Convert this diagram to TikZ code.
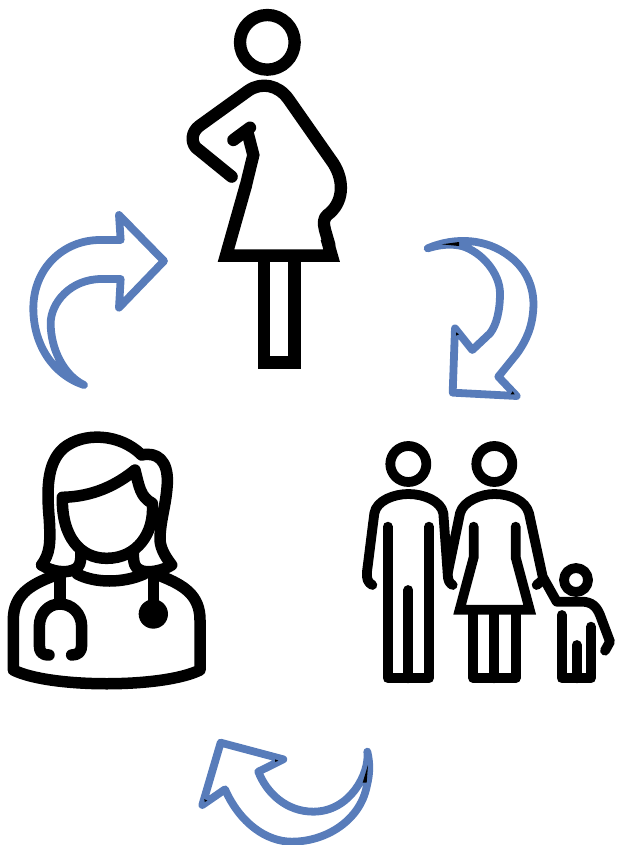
\documentclass[tikz,border=0pt]{standalone}
\definecolor{arrowblue}{RGB}{88,124,186}
\tikzset{
  icon/.style={draw=black,line width=#1,line cap=round,line join=round,fill=none},
  sharp/.style={draw=black,line width=#1,line cap=butt,line join=miter,miter limit=10,fill=none},
  cyclearrow/.style={draw=arrowblue,line width=7.8pt,line cap=round,line join=round,fill=none},
  artifact/.style={fill=black,draw=none},
  zoomed/.style 2 args={x=0.33333pt,y=-0.33333pt,xshift=#1 pt,yshift=-#2 pt}
}
\begin{document}
\begin{tikzpicture}[x=1pt,y=-1pt]
\useasboundingbox (0,0) rectangle (617,845);
% pregnant woman
\begin{scope}[zoomed={170}{0}]
  \draw[icon=12.3pt] (292,127) circle[radius=82];
  \draw[icon=12.3pt] (185,530) -- (78,443) .. controls (62,425) and (65,395) .. (88,378)
    -- (235,272) .. controls (275,245) and (325,255) .. (355,297)
    -- (490,490) .. controls (525,545) and (520,610) .. (472,645)
    .. controls (460,655) and (460,670) .. (465,690) -- (478,735);
  \draw[icon=12.3pt] (190,420) -- (240,383);
  \draw[icon=12.3pt,line join=miter] (232,395) -- (250,465) -- (228,555);
  \draw[sharp=12.5pt] (228,555) -- (168,767) -- (485,767) -- (470,715);
  \draw[sharp=12.5pt] (281.5,767) -- (281.5,1087) -- (373.5,1087) -- (373.5,767);
\end{scope}
% doctor
\begin{scope}[zoomed={0}{420}]
  \draw[icon=11.5pt] (125,435) .. controls (150,400) and (152,370) .. (148,300)
    .. controls (140,210) and (140,130) .. (190,85) .. controls (250,35) and (360,40) .. (425,105)
    .. controls (470,95) and (505,120) .. (502,190)
    .. controls (498,260) and (480,300) .. (480,360) .. controls (482,390) and (500,415) .. (515,435)
    .. controls (490,452) and (440,462) .. (420,450) .. controls (405,445) and (400,430) .. (400,400);
  \draw[icon=11.5pt] (125,435) .. controls (155,455) and (195,460) .. (220,450)
    .. controls (240,445) and (243,425) .. (243,395);
  \draw[icon=11.5pt] (187,232) .. controls (280,230) and (350,195) .. (405,150)
    .. controls (418,200) and (420,230) .. (457,250)
    .. controls (465,340) and (410,415) .. (320,415)
    .. controls (240,415) and (185,350) .. (187,232);
  \draw[icon=11.5pt] (232,462) .. controls (285,490) and (370,490) .. (432,462);
  \draw[icon=11.5pt] (160,468) .. controls (90,495) and (40,525) .. (40,600) -- (40,750)
    .. controls (150,805) and (490,805) .. (600,750) -- (600,600)
    .. controls (600,525) and (550,495) .. (482,468);
  \draw[icon=11.5pt] (180,475) -- (180,552);
  \draw[icon=11.5pt] (147,705) .. controls (125,705) and (118,695) .. (118,675) -- (118,620)
    .. controls (118,580) and (145,552) .. (180,552)
    .. controls (215,552) and (245,580) .. (245,620) -- (245,675)
    .. controls (245,695) and (235,705) .. (215,705);
  \draw[icon=11.5pt] (460,475) -- (460,560);
  \fill[black] (460,582) circle[radius=44];
\end{scope}
% family
\begin{scope}[zoomed={355}{430}]
  \draw[icon=9.8pt] (160,102) circle[radius=54];
  \draw[icon=9.8pt] (418,102) circle[radius=54];
  \draw[icon=9.8pt] (663,450) circle[radius=36];
  \draw[icon=9.8pt] (52,465) .. controls (38,458) and (34,445) .. (36,425) -- (58,250)
    .. controls (65,210) and (120,192) .. (160,192) .. controls (205,192) and (258,212) .. (265,250)
    -- (278,430) .. controls (278,450) and (283,460) .. (293,465);
  \draw[icon=9.8pt] (98,290) -- (98,745) -- (222,745) -- (222,290);
  \draw[icon=9.8pt] (160,480) -- (160,745);
  \draw[icon=9.8pt] (278,430) -- (315,250) .. controls (325,212) and (380,192) .. (418,192)
    .. controls (465,192) and (512,212) .. (522,250) -- (563,440) -- (605,515) -- (680,515)
    .. controls (710,515) and (725,530) .. (735,555) -- (765,635) -- (750,662);
  \draw[icon=9.8pt] (545,465) -- (563,450);
  \draw[draw=black,line width=9.8pt,line cap=round,line join=miter,miter limit=10]
    (356,290) -- (356,382) -- (314,539) -- (524,539) -- (482,382) -- (482,290);
  \draw[icon=9.8pt] (355,545) -- (355,745) -- (482,745) -- (482,545);
  \draw[icon=9.8pt] (418,545) -- (418,745);
  \draw[icon=9.8pt] (620,555) -- (620,745) -- (708,745) -- (708,590);
  \draw[icon=9.8pt] (665,645) -- (665,745);
\end{scope}
% arrow: doctor to pregnant woman
\begin{scope}[zoomed={20}{205}]
  \draw[cyclearrow] (192,540) .. controls (100,510) and (40,420) .. (40,310)
    .. controls (40,190) and (130,105) .. (240,105) -- (302,105) -- (297,30) -- (432,168)
    -- (297,308) -- (302,222) -- (245,222)
    .. controls (150,222) and (92,295) .. (92,355)
    .. controls (92,430) and (130,510) .. (192,540) -- cycle;
\end{scope}
% arrow: pregnant woman to family
\begin{scope}[zoomed={415}{230}]
  \draw[cyclearrow] (38,55) .. controls (120,20) and (215,25) .. (285,80)
    .. controls (345,125) and (358,190) .. (355,235)
    .. controls (352,290) and (335,330) .. (305,372) -- (250,440) -- (305,498) -- (113,488)
    -- (120,295) -- (172,360) -- (225,310)
    .. controls (245,285) and (255,240) .. (255,190)
    .. controls (255,130) and (200,65) .. (140,48)
    .. controls (105,40) and (70,45) .. (38,55) -- cycle;
  \fill[artifact] (80,43) -- (132,36) -- (132,48) -- cycle;
  \fill[artifact] (123,307) -- (132,313) -- (123,317) -- cycle;
  \fill[artifact] (287,493) -- (293,484) -- (299,493) -- cycle;
\end{scope}
% arrow: family to doctor
\begin{scope}[zoomed={190}{730}]
  \draw[cyclearrow] (532,65) .. controls (540,130) and (480,245) .. (370,245)
    .. controls (290,245) and (230,190) .. (205,125) -- (280,88) -- (92,38) -- (37,225) -- (105,178)
    .. controls (150,280) and (230,335) .. (305,335)
    .. controls (410,335) and (510,270) .. (530,170)
    .. controls (540,130) and (540,100) .. (532,65) -- cycle;
  \fill[artifact] (534,105) -- (530,158) -- (518,158) -- cycle;
  \fill[artifact] (43,207) -- (52,212) -- (44,216) -- cycle;
  \fill[artifact] (255,88) -- (265,92) -- (256,96) -- cycle;
\end{scope}
\end{tikzpicture}
\end{document}
